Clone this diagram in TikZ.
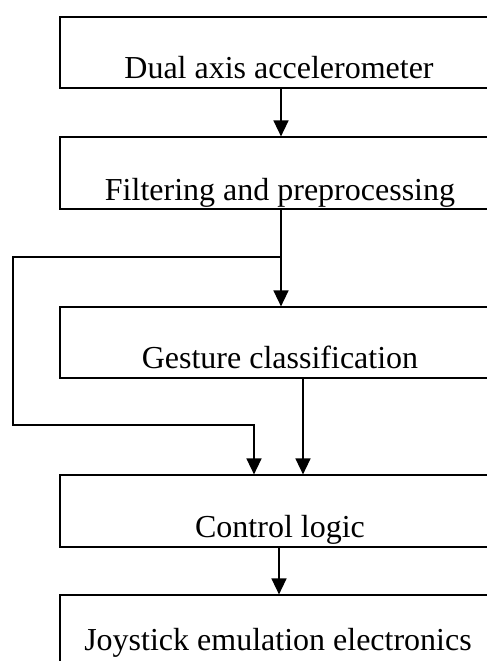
\documentclass[tikz,border=0pt]{standalone}
\usepackage{fontspec}
\setmainfont{Liberation Serif}
\usetikzlibrary{arrows.meta}
\begin{document}
\begin{tikzpicture}[x={(1pt,0)},y={(0,-1pt)},
  blk/.style={draw,line width=1.2pt,rectangle,minimum width=440pt,inner sep=0pt},
  lbl/.style={anchor=base,font=\fontsize{32}{36}\selectfont,inner sep=0pt},
  conn/.style={line width=1.5pt},
  arr/.style={conn,-{Triangle[length=16pt,width=15pt]}}]
\useasboundingbox (0,0) rectangle (487,661);
\clip (0,0) rectangle (487,661);
\fill[white] (0,0) rectangle (487,661);
\node[blk,minimum height=71pt] (b1) at (280,52.5) {};
\node[blk,minimum height=72pt] (b2) at (280,173) {};
\node[blk,minimum height=71pt] (b3) at (280,342.5) {};
\node[blk,minimum height=72pt] (b4) at (280,511) {};
\node[blk,minimum height=90pt] (b5) at (280,640) {};
\node[lbl] (t1) at (279,78) {Dual axis accelerometer};
\node[lbl] (t2) at (280,200) {Filtering and preprocessing};
\node[lbl] (t3) at (280,368) {Gesture classification};
\node[lbl] (t4) at (280,537) {Control logic};
\node[lbl] (t5) at (278,650) {Joystick emulation electronics};
\coordinate (c12) at (281,0);
\coordinate (j) at (281,257);
\coordinate (l1) at (13,257);
\coordinate (l2) at (13,425);
\coordinate (l3) at (254,425);
\coordinate (c34) at (303,0);
\coordinate (c45) at (279,0);
\draw[arr] (b1.south -| c12) -- (b2.north -| c12);
\draw[conn] (b2.south -| j) -- (j);
\draw[arr] (j) -- (b3.north -| j);
\draw[arr] (j) -- (l1) -- (l2) -- (l3) -- (b4.north -| l3);
\draw[arr] (b3.south -| c34) -- (b4.north -| c34);
\draw[arr] (b4.south -| c45) -- (b5.north -| c45);
\end{tikzpicture}
\end{document}
